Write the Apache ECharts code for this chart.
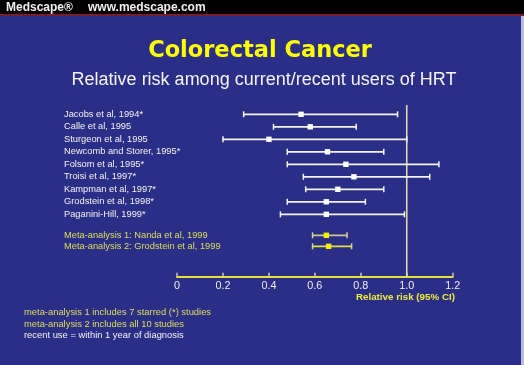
<!DOCTYPE html>
<html>
<head>
<meta charset="utf-8">
<script src="https://cdn.jsdelivr.net/npm/echarts@6/dist/echarts.min.js"></script>
<style>
html,body{margin:0;padding:0;background:#2a2e86;}
#chart{width:524px;height:365px;}
</style>
</head>
<body>
<div id="chart"></div>
<script>
// ---- data ----
var studies = ['Jacobs et al, 1994*','Calle et al, 1995','Sturgeon et al, 1995','Newcomb and Storer, 1995*','Folsom et al, 1995*','Troisi et al, 1997*','Kampman et al, 1997*','Grodstein et al, 1998*','Paganini-Hill, 1999*'];
var studyLow  = [0.29, 0.42, 0.20, 0.48, 0.48, 0.55, 0.56, 0.48, 0.45];
var studyRR   = [0.54, 0.58, 0.40, 0.655, 0.735, 0.77, 0.70, 0.65, 0.65];
var studyHigh = [0.96, 0.78, 1.00, 0.90, 1.14, 1.10, 0.90, 0.82, 0.99];
var metas = ['Meta-analysis 1: Nanda et al, 1999','Meta-analysis 2: Grodstein et al, 1999'];
var metaLow  = [0.59, 0.59];
var metaRR   = [0.65, 0.66];
var metaHigh = [0.74, 0.76];
var xTicks = [0, 0.2, 0.4, 0.6, 0.8, 1.0, 1.2];
var refLine = [1.0];
var footnotes = ['meta-analysis 1 includes 7 starred (*) studies','meta-analysis 2 includes all 10 studies','recent use = within 1 year of diagnosis'];

var FONT = '"Liberation Sans", Arial, sans-serif';
var chart = echarts.init(document.getElementById('chart'), null, {renderer:'canvas'});

function rows(low, rr, high){
  return low.map(function(l,i){ return [i, l, rr[i], high[i]]; });
}
function makeRender(lineColors, capColor, markColor){
  return function(params, api){
    var i = api.value(0);
    var a = api.coord([api.value(1), i]);
    var m = api.coord([api.value(2), i]);
    var b = api.coord([api.value(3), i]);
    var lc = lineColors[i % lineColors.length];
    var h = 3, s = 2.7;
    return {type:'group', children:[
      {type:'line', shape:{x1:a[0],y1:a[1],x2:b[0],y2:b[1]}, style:{stroke:lc,lineWidth:1.8}},
      {type:'line', shape:{x1:a[0],y1:a[1]-h,x2:a[0],y2:a[1]+h}, style:{stroke:capColor,lineWidth:1.5}},
      {type:'line', shape:{x1:b[0],y1:b[1]-h,x2:b[0],y2:b[1]+h}, style:{stroke:capColor,lineWidth:1.5}},
      {type:'rect', shape:{x:m[0]-s,y:m[1]-s,width:2*s,height:2*s}, style:{fill:markColor}}
    ]};
  };
}

var L = 177, W = 275.7;
var option = {
  backgroundColor:'#2a2e86',
  animation:false,
  grid:[
    {left:L, width:W, top:105, height:171.7},
    {left:L, width:W, top:108.05, height:112.5},
    {left:L, width:W, top:229.8, height:22}
  ],
  xAxis:[
    {gridIndex:0, type:'value', min:0, max:1.2, interval:0.2,
     axisLine:{show:true, lineStyle:{color:'#e6e03c', width:2}},
     axisTick:{show:true, inside:true, length:4, lineStyle:{color:'#c8c8a0', width:1.5}},
     splitLine:{show:false},
     axisLabel:{color:'#eeeeee', fontFamily:FONT, fontSize:10.8, margin:4,
       formatter:function(v){ return v===0 ? '0' : v.toFixed(1); }}},
    {gridIndex:1, type:'value', min:0, max:1.2, show:false},
    {gridIndex:2, type:'value', min:0, max:1.2, show:false}
  ],
  yAxis:[
    {gridIndex:0, type:'value', min:0, max:1, show:false},
    {gridIndex:1, type:'category', data:studies, inverse:true,
     axisLine:{show:false}, axisTick:{show:false},
     axisLabel:{interval:0, hideOverlap:false, align:'left', margin:113, color:'#f2f2f2', fontFamily:FONT, fontSize:9.3}},
    {gridIndex:2, type:'category', data:metas, inverse:true,
     axisLine:{show:false}, axisTick:{show:false},
     axisLabel:{interval:0, hideOverlap:false, align:'left', margin:113, color:'#dede5a', fontFamily:FONT, fontSize:9.3}}
  ],
  series:[
    {type:'custom', xAxisIndex:0, yAxisIndex:0, data:refLine.map(function(v){return [v];}),
     renderItem:function(params, api){
       var t = api.coord([api.value(0), 1]);
       var b = api.coord([api.value(0), 0]);
       return {type:'line', shape:{x1:t[0],y1:t[1],x2:b[0],y2:b[1]}, style:{stroke:'#ddd9a8', lineWidth:1.6}};
     }},
    {type:'custom', xAxisIndex:1, yAxisIndex:1, data:rows(studyLow, studyRR, studyHigh),
     renderItem:makeRender(['#f4f4f4'], '#f4f4f4', '#ffffff')},
    {type:'custom', xAxisIndex:2, yAxisIndex:2, data:rows(metaLow, metaRR, metaHigh),
     renderItem:makeRender(['#c8c890','#e6e03c'], '#d8d890', '#f4f000')}
  ],
  graphic:[
    {type:'rect', shape:{x:0,y:0,width:524,height:14}, style:{fill:'#000000'}},
    {type:'rect', shape:{x:0,y:14,width:524,height:2}, style:{fill:'#7a1c2c'}},
    {type:'rect', shape:{x:521,y:16,width:3,height:349}, style:{fill:'#b8bcd8'}},
    {type:'text', x:6, y:7.5, style:{text:'Medscape\u00ae', fill:'#f0f0f0', font:'bold 12px '+FONT, verticalAlign:'middle'}},
    {type:'text', x:88, y:7.5, style:{text:'www.medscape.com', fill:'#f0f0f0', font:'bold 12px '+FONT, verticalAlign:'middle'}},
    {type:'text', x:260, y:51, style:{text:'Colorectal Cancer', fill:'#ffff00', font:'bold 22.5px "DejaVu Sans", sans-serif', align:'center', verticalAlign:'middle'}},
    {type:'text', x:264, y:80, style:{text:'Relative risk among current/recent users of HRT', fill:'#f4f4f4', font:'18px '+FONT, align:'center', verticalAlign:'middle'}},
    {type:'text', x:455, y:297, style:{text:'Relative risk (95% CI)', fill:'#ecec40', font:'bold 9.8px '+FONT, align:'right', verticalAlign:'middle'}},
    {type:'text', x:24, y:312.7, style:{text:footnotes[0], fill:'#dede5a', font:'9.4px '+FONT, verticalAlign:'middle'}},
    {type:'text', x:24, y:324.2, style:{text:footnotes[1], fill:'#dede5a', font:'9.4px '+FONT, verticalAlign:'middle'}},
    {type:'text', x:24, y:335.6, style:{text:footnotes[2], fill:'#f2f2f2', font:'9.4px '+FONT, verticalAlign:'middle'}}
  ]
};
chart.setOption(option);
</script>
</body>
</html>
